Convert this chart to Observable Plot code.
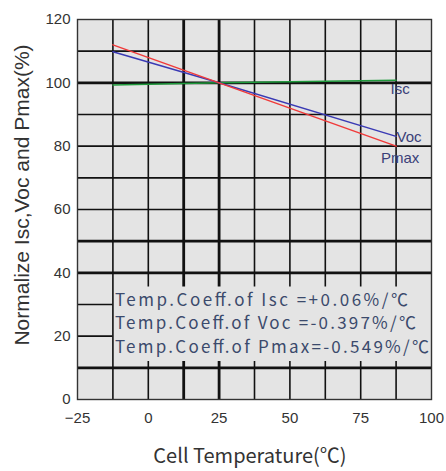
<!DOCTYPE html>
<html>
<head>
<meta charset="utf-8">
<script src="https://cdn.jsdelivr.net/npm/d3@7"></script>
<script src="https://cdn.jsdelivr.net/npm/@observablehq/plot@0.6"></script>
<style>
  html, body { margin: 0; padding: 0; background: #fff; }
  #chart svg { display: block; }
</style>
</head>
<body>
<div id="chart"></div>
<script>
// ---- data ----
const temperature = [-12.5, 25, 87.5];
const isc  = [99.3, 100, 100.8];
const voc  = [109.8, 100, 83.1];
const pmax = [112, 100, 80];
const seriesNames = ["Isc", "Voc", "Pmax"];
const xTicks = [-25, 0, 25, 50, 75, 100];
const yTicks = [0, 20, 40, 60, 80, 100, 120];
const gridX = [-12.5, 0, 12.5, 25, 37.5, 50, 62.5, 75, 87.5];
const gridY = [10, 20, 30, 40, 50, 60, 70, 80, 90, 100, 110];
const coeffLines = [
  "Temp.Coeff.of Isc =+0.06%/℃",
  "Temp.Coeff.of Voc =-0.397%/℃",
  "Temp.Coeff.of Pmax=-0.549%/℃"
];

// ---- build tables ----
const colors = {Isc: "#1f9a3c", Voc: "#3a3ab4", Pmax: "#f03a3a"};
const values = {Isc: isc, Voc: voc, Pmax: pmax};
const rows = seriesNames.flatMap(s => temperature.map((t, i) => ({series: s, t, v: values[s][i]})));
const ends = seriesNames.map(s => ({series: s, t: temperature[temperature.length - 1], v: values[s][values[s].length - 1]}));

// note box region (in data units)
const boxX0 = -12.5, boxY0 = 10, boxY1 = 40;
const thickX = new Set([12.5, 25]);
const thickY = new Set([10, 40, 50, 100]);

// vertical grid segments
const vSeg = [];
for (const gx of gridX) {
  if (gx <= boxX0) vSeg.push({x: gx, y1: 0, y2: 120});
  else {
    vSeg.push({x: gx, y1: 0, y2: boxY0 + 2});
    vSeg.push({x: gx, y1: boxY1 - 4.5, y2: 120});
  }
}
// horizontal grid segments
const hSeg = [];
for (const gy of gridY) {
  if (gy > boxY0 && gy < boxY1) hSeg.push({y: gy, x1: -25, x2: boxX0});
  else hSeg.push({y: gy, x1: -25, x2: 100});
}

const labelPos = {Isc: {dx: 4, dy: 9}, Voc: {dx: 13, dy: 1}, Pmax: {dx: 4, dy: 12}};
const coeffWidths = [293, 301, 314];

const chart = Plot.plot({
  width: 446,
  height: 471,
  marginLeft: 77,
  marginRight: 15,
  marginTop: 19,
  marginBottom: 72,
  style: {fontFamily: "Liberation Sans, Arial, sans-serif", fontSize: "15px", color: "#333"},
  x: {domain: [-25, 100], label: null},
  y: {domain: [0, 120], label: null},
  marks: [
    Plot.frame({fill: "#e4e4e4", stroke: null}),
    Plot.ruleX(vSeg, {x: "x", y1: "y1", y2: "y2", stroke: "#111", strokeWidth: d => thickX.has(d.x) ? 2.8 : 1.6}),
    Plot.ruleY(hSeg, {y: "y", x1: "x1", x2: "x2", stroke: "#111", strokeWidth: d => thickY.has(d.y) ? 2.6 : 1.6}),
    Plot.frame({stroke: "#333", strokeWidth: 1.4}),
    Plot.line(rows, {x: "t", y: "v", z: "series", stroke: d => colors[d.series], strokeWidth: 1.5}),
    ...seriesNames.map(s => Plot.text(ends.filter(d => d.series === s), {
      x: "t", y: "v", text: "series", dx: labelPos[s].dx, dy: labelPos[s].dy,
      fill: "#3a3f78", fontSize: 15, fontFamily: "Liberation Sans Narrow, Liberation Sans, sans-serif"
    })),
    Plot.text(coeffLines, {
      x: boxX0, y: (d, i) => 31.3 - i * 7.45, text: d => d, textAnchor: "start", dx: 2,
      fill: "#3b4a6c", fontSize: 17, fontFamily: "Noto Sans CJK KR, Noto Sans, sans-serif",
      className: "coeff"
    }),
    Plot.axisX({ticks: xTicks, tickSize: 0, tickPadding: 13, fontSize: 15, label: null}),
    Plot.axisY({ticks: yTicks, tickSize: 0, tickPadding: 7, fontSize: 15, label: null})
  ]
});

const svg = d3.select(chart);
svg.selectAll(".coeff text").each(function(d, i) {
  d3.select(this).attr("textLength", coeffWidths[i]).attr("lengthAdjust", "spacing");
});
svg.append("text")
  .attr("transform", "translate(23,195) rotate(-90)")
  .attr("text-anchor", "middle")
  .attr("dominant-baseline", "middle")
  .attr("font-family", "Liberation Sans, Arial, sans-serif")
  .attr("font-size", 21)
  .attr("fill", "#333")
  .text("Normalize Isc,Voc and Pmax(%)");
svg.append("text")
  .attr("x", 250)
  .attr("y", 458)
  .attr("text-anchor", "middle")
  .attr("dominant-baseline", "middle")
  .attr("font-family", "Noto Sans CJK KR, Noto Sans, sans-serif")
  .attr("font-size", 20)
  .attr("fill", "#333")
  .text("Cell Temperature(℃)");

document.getElementById("chart").appendChild(chart);
</script>
</body>
</html>
